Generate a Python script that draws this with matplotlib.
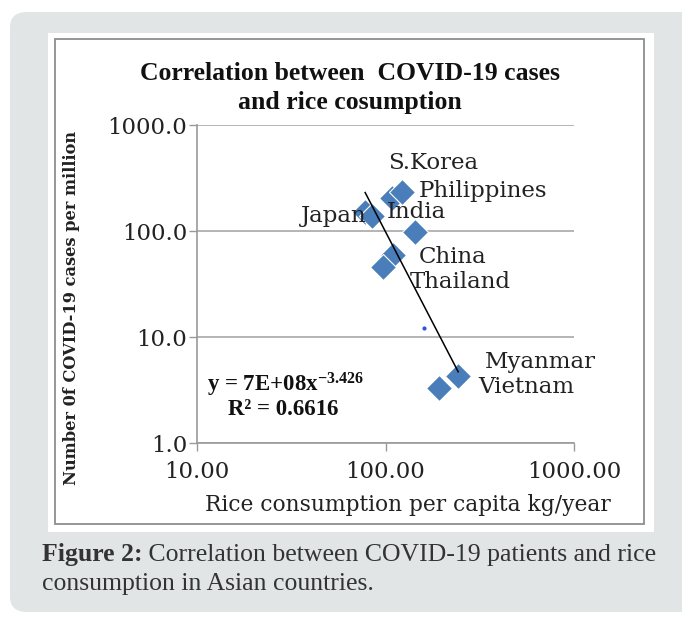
import matplotlib
matplotlib.use("Agg")
import matplotlib.pyplot as plt
from matplotlib.patches import FancyBboxPatch, Rectangle
import numpy as np

# ---- data ----
countries = ["Japan", "", "S.Korea", "Philippines", "India", "China", "Thailand", "Myanmar", "Vietnam"]
rice_kg = [78, 85, 108, 122, 143, 110, 97, 243, 192]
cases_per_million = [151, 139, 205, 233, 98, 59, 46, 4.3, 3.3]
# label offsets (points) are styling, kept separately
label_offsets = [(1, -3), (0, 0), (-3, 25), (12, 1), (-20, 14), (18, -1), (19, -11), (19, 10), (28, 1)]
label_ha = ["right", "left", "left", "left", "left", "left", "left", "left", "left"]
stray_x = [160]
stray_y = [12.2]
trend_a = 7e8
trend_b = -3.426
x_ticks = [10, 100, 1000]
x_tick_labels = ["10.00", "100.00", "1000.00"]
y_ticks = [1, 10, 100, 1000]
y_tick_labels = ["1.0", "10.0", "100.0", "1000.0"]

W, H = 682, 617
fig = plt.figure(figsize=(W / 100, H / 100), dpi=100)
fig.patch.set_facecolor("white")

def fx(px):
    return px / W

def fy(py):
    return 1 - py / H

# gray rounded card
card = FancyBboxPatch((fx(10), fy(612)), fx(720) - fx(10), fy(12) - fy(612),
                      boxstyle="round,pad=0,rounding_size=0.025",
                      transform=fig.transFigure, facecolor="#e2e5e6", edgecolor="none", zorder=0)
fig.patches.append(card)
# white panel
fig.patches.append(Rectangle((fx(48), fy(532)), fx(654) - fx(48), fy(33) - fy(532),
                             transform=fig.transFigure, facecolor="white", edgecolor="none", zorder=1))
# chart border
fig.patches.append(Rectangle((fx(55), fy(524)), fx(644) - fx(55), fy(39) - fy(524),
                             transform=fig.transFigure, facecolor="none", edgecolor="#8e8e8e",
                             linewidth=1.3, zorder=2))

serif = "DejaVu Serif"
ax = fig.add_axes([fx(197), fy(443), fx(574) - fx(197), fy(125) - fy(443)])
ax.set_facecolor("none")
ax.set_zorder(3)
ax.set_xscale("log")
ax.set_yscale("log")
ax.set_xlim(10, 1000)
ax.set_ylim(1, 1000)
ax.minorticks_off()
ax.set_xticks(x_ticks)
ax.set_xticklabels(x_tick_labels)
ax.set_yticks(y_ticks)
ax.set_yticklabels(y_tick_labels)
for lab in ax.get_xticklabels() + ax.get_yticklabels():
    lab.set_fontfamily(serif)
    lab.set_fontsize(16.5)
    lab.set_color("#222222")
ax.tick_params(axis="both", direction="out", length=6, width=1.0, color="#999999")
ax.tick_params(axis="x", pad=7)
ax.tick_params(axis="y", pad=1)
for s in ["top", "right"]:
    ax.spines[s].set_visible(False)
for s in ["left", "bottom"]:
    ax.spines[s].set_color("#999999")
    ax.spines[s].set_linewidth(1.2)
ax.yaxis.grid(True, color="#a0a0a0", linewidth=1.1)
ax.xaxis.grid(False)
ax.set_axisbelow(True)

ax.plot(rice_kg, cases_per_million, linestyle="none", marker="D", markersize=13.5,
        markerfacecolor="#4a7ebb", markeredgecolor="white", markeredgewidth=0.8, zorder=4)
ax.plot(stray_x, stray_y, linestyle="none", marker="o", markersize=2, color="#3050e0", zorder=4)

xt = np.array([min(rice_kg), max(rice_kg)])
xs = np.logspace(np.log10(xt[0]), np.log10(xt[1]), 50)
ax.plot(xs, trend_a * xs ** trend_b, color="black", linewidth=1.1, zorder=5)

for name, x, y, off, ha in zip(countries, rice_kg, cases_per_million, label_offsets, label_ha):
    if not name:
        continue
    ax.annotate(name, xy=(x, y), xytext=off, textcoords="offset points", ha=ha, va="center",
                fontfamily=serif, fontsize=16.5, color="#222222", zorder=6)

plt.rcParams["mathtext.fontset"] = "custom"
plt.rcParams["mathtext.rm"] = "Liberation Serif:bold"
plt.rcParams["mathtext.default"] = "rm"
ax.text(0.027, 0.182, r"y = 7E+08x$^{-3.426}$", transform=ax.transAxes, ha="left", va="center",
        fontfamily="Liberation Serif", fontweight="bold", fontsize=16.5, color="#111111")
ax.text(0.082, 0.104, "R\u00b2 = 0.6616", transform=ax.transAxes, ha="left", va="center",
        fontfamily="Liberation Serif", fontweight="bold", fontsize=16.5, color="#111111")

# titles / axis labels
fig.text(fx(350), fy(74), "Correlation between  COVID-19 cases", ha="center", va="center",
         fontfamily="Liberation Serif", fontweight="bold", fontsize=18.5, color="#111111")
fig.text(fx(350), fy(103), "and rice cosumption", ha="center", va="center",
         fontfamily="Liberation Serif", fontweight="bold", fontsize=18.5, color="#111111")
fig.text(fx(408), fy(505), "Rice consumption per capita kg/year", ha="center", va="center",
         fontfamily=serif, fontsize=15.7, color="#222222")
fig.text(fx(72), fy(308), "Number 0f COVID-19 cases per million", ha="center", va="center",
         rotation=90, fontfamily=serif, fontweight="bold", fontsize=11.7, color="#222222")

# caption
t1 = fig.text(fx(42), fy(554), "Figure 2:", ha="left", va="center",
              fontfamily="Liberation Serif", fontweight="bold", fontsize=18.5, color="#333333")
fig.text(fx(42), fy(584), "consumption in Asian countries.", ha="left", va="center",
         fontfamily="Liberation Serif", fontsize=18.5, color="#333333")
plt.annotate(" Correlation between COVID-19 patients and rice", xy=(1, 0), xycoords=t1,
             ha="left", va="bottom", fontfamily="Liberation Serif", fontsize=18.5, color="#333333",
             annotation_clip=False)

fig.savefig("out.png", dpi=100)
